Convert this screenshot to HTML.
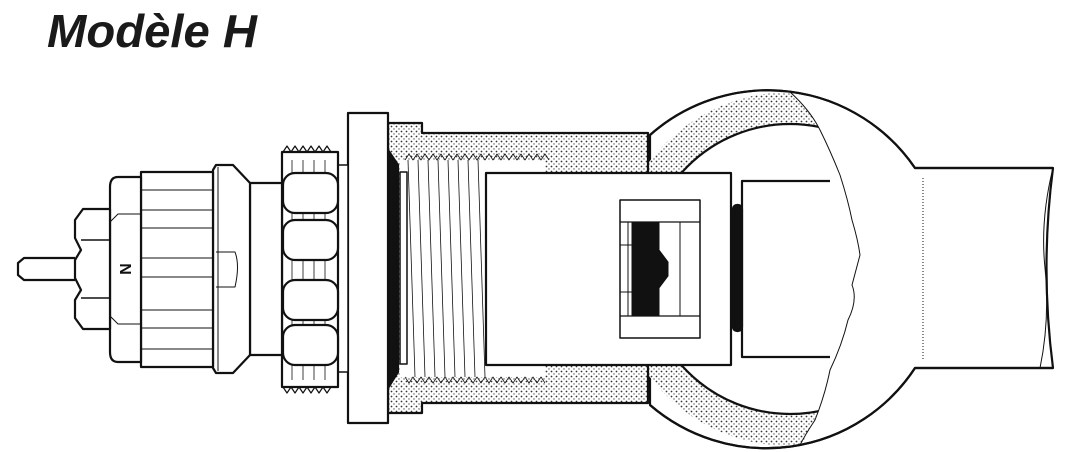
<!DOCTYPE html>
<html><head><meta charset="utf-8"><style>
html,body{margin:0;padding:0;background:#fff;}
svg{display:block;}
</style></head><body>
<svg width="1069" height="452" viewBox="0 0 1069 452" xmlns="http://www.w3.org/2000/svg">
<defs>
<pattern id="dots" width="5" height="5" patternUnits="userSpaceOnUse">
<rect width="5" height="5" fill="#fff"/>
<circle cx="1.5" cy="1.5" r="0.9" fill="#333"/>
<circle cx="4" cy="4" r="0.7" fill="#555"/>
</pattern>
<clipPath id="leftwave"><path d="M600 80 L785 80 L790 92 Q810 110 820 130 Q830 150 840 175 Q848 200 852 220 Q858 240 860 255 Q856 270 852 285 Q858 300 848 320 Q842 345 830 370 Q825 395 815 420 Q805 435 800 450 L600 450 Z"/></clipPath>
</defs>
<text x="47" y="47" font-family="Liberation Sans, sans-serif" font-weight="bold" font-style="italic" font-size="46" fill="#1a1a1a" textLength="210" lengthAdjust="spacingAndGlyphs">Modèle H</text>

<g stroke="#111" stroke-width="2.2" fill="#fff" stroke-linejoin="round">
<!-- wrench -->
<path d="M650 135 A178 178 0 0 1 915 168 L1053 168 Q1040 268 1053 368 L915 368 A178 178 0 0 1 650 405 Z" fill="#fff"/>
<g clip-path="url(#leftwave)">
<circle cx="790" cy="269" r="177" fill="url(#dots)" stroke="none"/>
<circle cx="790" cy="269" r="145" fill="#fff"/>
</g>
<path d="M790 92 Q810 110 820 130 Q830 150 840 175 Q848 200 852 220 Q858 240 860 255 Q856 270 852 285 Q858 300 848 320 Q842 345 830 370 Q825 395 815 420 Q805 435 800 445" fill="none" stroke-width="1"/>
<path d="M650 135 A178 178 0 0 1 915 168 L1053 168" fill="none"/>
<path d="M650 405 A178 178 0 0 0 915 368 L1053 368" fill="none"/>
<path d="M1053 168 Q1040 220 1045 268 Q1050 320 1040 368" fill="none" stroke-width="1"/>
<line x1="923" y1="178" x2="923" y2="360" stroke-width="1" stroke-dasharray="1 2"/>

<!-- dotted body -->
<path d="M388 123 L422 123 L422 133 L648 133 L648 403 L422 403 L422 413 L388 413 Z" fill="url(#dots)"/>
<path d="M400 160 L545 160 L545 377 L400 377 Z" fill="#fff" stroke="none"/>
<g stroke-width="0.8" fill="none">
<path d="M408 160 L415 377 M418 160 L425 377 M428 160 L435 377 M438 160 L445 377 M448 160 L455 377 M458 160 L465 377 M468 160 L475 377 M478 160 L485 377"/>
<path d="M405 160 l4 -6 l4 6 l4 -6 l4 6 l4 -6 l4 6 l4 -6 l4 6 l4 -6 l4 6 l4 -6 l4 6 l4 -6 l4 6 l4 -6 l4 6 l4 -6 l4 6 l4 -6 l4 6 l4 -6 l4 6 l4 -6 l4 6 l4 -6 l4 6 l4 -6 l4 6 l4 -6 l4 6 l4 -6 l4 6 l4 -6 l4 6 l4 -6 l4 6"/>
<path d="M405 377 l4 6 l4 -6 l4 6 l4 -6 l4 6 l4 -6 l4 6 l4 -6 l4 6 l4 -6 l4 6 l4 -6 l4 6 l4 -6 l4 6 l4 -6 l4 6 l4 -6 l4 6 l4 -6 l4 6 l4 -6 l4 6 l4 -6 l4 6 l4 -6 l4 6 l4 -6 l4 6 l4 -6 l4 6 l4 -6 l4 6 l4 -6 l4 6"/>
</g>
<path d="M388 150 L398 165 L398 372 L388 388 Z" fill="#111"/>
<rect x="400" y="172" width="7" height="192" stroke-width="1.5"/>

<!-- insert -->
<rect x="486" y="173" width="245" height="192"/>
<rect x="620" y="200" width="80" height="138" stroke-width="1.5"/>
<line x1="620" y1="222" x2="700" y2="222" stroke-width="1.2"/>
<line x1="620" y1="316" x2="700" y2="316" stroke-width="1.2"/>
<line x1="628" y1="222" x2="628" y2="316" stroke-width="1"/>
<line x1="680" y1="222" x2="680" y2="316" stroke-width="1"/>
<line x1="620" y1="245" x2="632" y2="245" stroke-width="1"/>
<line x1="620" y1="292" x2="632" y2="292" stroke-width="1"/>
<path d="M632 222 L659 222 L659 250 L668 262 L668 276 L659 288 L659 316 L632 316 Z" fill="#111" stroke-width="1"/>
<rect x="733" y="205" width="9" height="126" rx="4" fill="#111"/>
<path d="M830 181 L742 181 L742 357 L830 357" fill="none"/>

<!-- flange -->
<rect x="348" y="113" width="40" height="310"/>
<rect x="338" y="165" width="10" height="207" stroke-width="1.5"/>

<!-- nut with teeth -->
<path d="M283 152 l4 -6 l4 6 l4 -6 l4 6 l4 -6 l4 6 l4 -6 l4 6 l4 -6 l4 6 l4 -6 l4 6" fill="none" stroke-width="1.2"/>
<path d="M283 387 l4 6 l4 -6 l4 6 l4 -6 l4 6 l4 -6 l4 6 l4 -6 l4 6 l4 -6 l4 6 l4 -6" fill="none" stroke-width="1.2"/>
<rect x="282" y="152" width="56" height="235"/>
<g stroke-width="0.8"><line x1="292" y1="160" x2="292" y2="380"/><line x1="303" y1="160" x2="303" y2="380"/><line x1="314" y1="160" x2="314" y2="380"/><line x1="325" y1="160" x2="325" y2="380"/></g>
<rect x="283" y="173" width="55" height="40" rx="12"/>
<rect x="283" y="220" width="55" height="40" rx="12"/>
<rect x="283" y="280" width="55" height="40" rx="12"/>
<rect x="283" y="325" width="55" height="40" rx="12"/>

<!-- neck -->
<rect x="250" y="183" width="32" height="172"/>
<!-- collar -->
<path d="M216 165 L233 165 L250 183 L250 355 L233 373 L216 373 L213 368 L213 170 Z"/>
<line x1="218" y1="167" x2="218" y2="371" stroke-width="1"/>
<path d="M216 252 L235 252 Q240 265 235 287 L216 287" fill="none" stroke-width="1"/>
<!-- ribbed -->
<rect x="141" y="172" width="72" height="195"/>
<g stroke-width="0.9">
<line x1="141" y1="190" x2="213" y2="190"/><line x1="141" y1="210" x2="213" y2="210"/>
<line x1="141" y1="228" x2="213" y2="228"/><line x1="141" y1="258" x2="213" y2="258"/>
<line x1="141" y1="277" x2="213" y2="277"/><line x1="141" y1="310" x2="213" y2="310"/>
<line x1="141" y1="328" x2="213" y2="328"/><line x1="141" y1="349" x2="213" y2="349"/>
</g>
<!-- cap -->
<path d="M118 177 L141 177 L141 362 L118 362 Q110 362 110 352 L110 187 Q110 177 118 177 Z"/>
<path d="M141 214 L118 214 L110 222 M141 324 L118 324 L110 316" fill="none" stroke-width="1"/>
<!-- hex -->
<path d="M83 209 L110 209 L110 329 L83 329 L75 318 L75 300 L81 290 L75 278 L75 260 L81 250 L75 238 L75 220 Z"/>
<path d="M81 240 L110 240 M81 298 L110 298" fill="none" stroke-width="1.5"/>
<!-- stem -->
<path d="M75 258 L24 258 L18 263 L18 275 L24 280 L75 280" fill="none"/>
</g>
<text x="0" y="0" transform="translate(120 269) rotate(90)" font-family="Liberation Sans, sans-serif" font-weight="bold" font-size="16" fill="#111" text-anchor="middle">N</text>
</svg>
</body></html>
